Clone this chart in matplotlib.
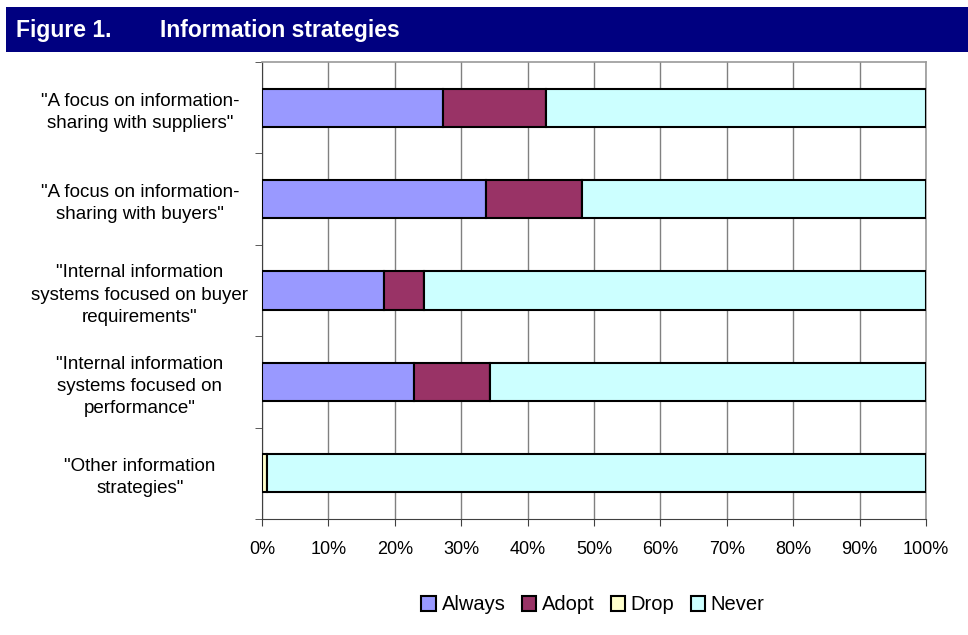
import matplotlib.pyplot as plt
import numpy as np
from matplotlib.patches import Rectangle

plt.rcParams['font.family'] = ['Liberation Sans', 'DejaVu Sans']

categories = ['"A focus on information-\nsharing with suppliers"',
              '"A focus on information-\nsharing with buyers"',
              '"Internal information\nsystems focused on buyer\nrequirements"',
              '"Internal information\nsystems focused on\nperformance"',
              '"Other information\nstrategies"']
always = [27.3, 33.7, 18.4, 22.9, 0.0]
adopt = [15.5, 14.5, 6.0, 11.4, 0.0]
drop = [0.0, 0.0, 0.0, 0.0, 0.8]
never = [57.2, 51.8, 75.6, 65.7, 99.2]
series = ['Always', 'Adopt', 'Drop', 'Never']
colors = ['#9999FF', '#993366', '#FFFFCC', '#CCFFFF']

fig = plt.figure(figsize=(9.68, 6.35), dpi=100)

# title banner
fig.patches.append(Rectangle((6/968, 1-52/635), 962/968, 45/635, transform=fig.transFigure,
                             facecolor='#000080', edgecolor='none'))
fig.text(16/968, 1-31/635, 'Figure 1.', color='white', fontsize=16.5, fontweight='bold', va='center')
fig.text(160/968, 1-31/635, 'Information strategies', color='white', fontsize=16.5, fontweight='bold', va='center')

ax = fig.add_axes([262/968, 1-519/635, 664/968, 457/635])
y = np.arange(len(categories))
left = np.zeros(len(categories))
for name, vals, c in zip(series, [always, adopt, drop, never], colors):
    ax.barh(y, vals, left=left, height=0.42, color=c, edgecolor='black', linewidth=1.5, label=name, zorder=3)
    left += np.array(vals)

ax.set_xlim(0, 100)
ax.set_ylim(len(categories) - 0.5, -0.5)
ax.set_xticks(np.arange(0, 101, 10))
ax.set_xticklabels(['%d%%' % v for v in range(0, 101, 10)], fontsize=13)
ax.set_yticks(y)
ax.set_yticklabels(categories, fontsize=13.5, ha='center', multialignment='center', linespacing=1.4)
ax.set_yticks(np.arange(-0.5, len(categories), 1), minor=True)
ax.tick_params(axis='y', which='major', length=0, pad=88)
ax.tick_params(axis='y', which='minor', length=5, direction='out', color='#404040')
ax.tick_params(axis='x', length=5, direction='out', color='#404040', pad=11)
ax.grid(axis='x', color='#808080', linewidth=1, zorder=0)
ax.set_axisbelow(True)
for s in ['top', 'right']:
    ax.spines[s].set_color('#999999')
    ax.spines[s].set_linewidth(1.2)
for s in ['left', 'bottom']:
    ax.spines[s].set_color('#404040')

fig.legend(loc='center', bbox_to_anchor=(593/968, 1-605/635), ncol=4, frameon=False,
           fontsize=14.5, handlelength=0.7, handleheight=0.7, handletextpad=0.3, columnspacing=0.8)

fig.savefig('out.png', dpi=100)
